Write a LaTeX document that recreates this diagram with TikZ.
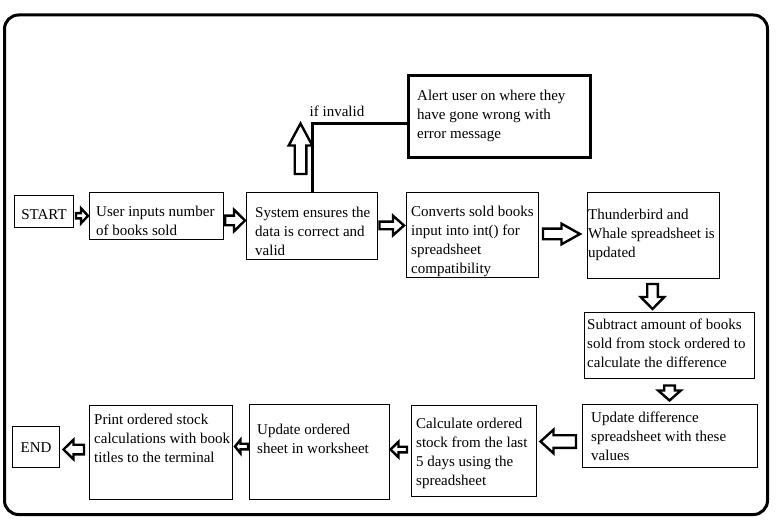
\documentclass[tikz,border=0pt]{standalone}
\usepackage{fontspec}
\setmainfont{Liberation Serif}
\usetikzlibrary{calc}
\tikzset{
  box/.style={draw, line width=1pt, anchor=north west, inner sep=0pt},
  txt/.style={anchor=north west, inner sep=0pt, align=left, execute at begin node=\strut},
  fat/.style={draw, fill=white, line width=2.4pt, line join=miter},
  thickline/.style={line width=3pt},
}
% hollow block arrow: tail, tip, half body, half head, head length
\newcommand{\fatarrow}[5]{%
  \coordinate (neck) at ($(#2)!#5!(#1)$);
  \draw[fat] ($(#1)!#3!90:(#2)$) -- ($(neck)!#3!90:(#2)$) -- ($(neck)!#4!90:(#2)$)
    -- (#2) -- ($(neck)!#4!-90:(#2)$) -- ($(neck)!#3!-90:(#2)$) -- ($(#1)!#3!-90:(#2)$) -- cycle;
}

\begin{document}
\begin{tikzpicture}[x=1pt, y=-1pt, font=\fontsize{15}{19}\selectfont]
  \useasboundingbox (0,0) rectangle (780,524);
  \draw[thickline, rounded corners=14pt] (4.5,15) rectangle (767.5,514.5);

  % top row
  \node[box, minimum width=59pt, minimum height=32pt, text height=16pt] (start) at (14,195) {START};
  \node[box, minimum width=134pt, minimum height=47pt] (user) at (89,192) {};
  \node[box, minimum width=131pt, minimum height=67pt] (system) at (246,192) {};
  \node[box, minimum width=132pt, minimum height=85pt] (converts) at (406,192) {};
  \node[box, minimum width=132pt, minimum height=86pt] (thunder) at (587,192) {};
  \node[box, line width=3pt, minimum width=182pt, minimum height=82pt] (alert) at (407,74) {};

  % right column and bottom row
  \node[box, minimum width=170pt, minimum height=66pt] (subtract) at (584,312) {};
  \node[box, minimum width=175pt, minimum height=63pt] (diff) at (582,404) {};
  \node[box, minimum width=125pt, minimum height=91pt] (calc) at (411,405) {};
  \node[box, minimum width=140pt, minimum height=95pt] (updord) at (249,404) {};
  \node[box, minimum width=143pt, minimum height=94pt] (print) at (89,405) {};
  \node[box, minimum width=47pt, minimum height=41pt, text height=12pt] (end) at (12,426) {END};

  % texts
  \node[txt] (usertext) at ($(user.north west)+(7,14)$) {User inputs number\\of books sold};
  \node[txt] (systemtext) at ($(system.north west)+(9,15)$) {System ensures the\\data is correct and\\valid};
  \node[txt] (convertstext) at ($(converts.north west)+(5,14)$) {Converts sold books\\input into int() for\\spreadsheet\\compatibility};
  \node[txt] (thundertext) at ($(thunder.north west)+(1,17)$) {Thunderbird and\\Whale spreadsheet is\\updated};
  \node[txt] (alerttext) at ($(alert.north west)+(10,16)$) {Alert user on where they\\have gone wrong with\\error message};
  \node[txt] (subtracttext) at ($(subtract.north west)+(3,7)$) {Subtract amount of books\\sold from stock ordered to\\calculate the difference};
  \node[txt] (difftext) at ($(diff.north west)+(9,8)$) {Update difference\\spreadsheet with these\\values};
  \node[txt] (calctext) at ($(calc.north west)+(5,13)$) {Calculate ordered\\stock from the last\\5 days using the\\spreadsheet};
  \node[txt] (updordtext) at ($(updord.north west)+(8,20)$) {Update ordered\\sheet in worksheet};
  \node[txt] (printtext) at ($(print.north west)+(5,9)$) {Print ordered stock\\calculations with book\\titles to the terminal};
  \node[anchor=west, inner sep=0pt] (invalid) at ($(system.north)+(-2.5,-81)$) {if invalid};

  % invalid branch
  \draw[thickline] ($(system.north)+(0.5,0)$) |- ($(alert.west)+(0,7)$);

  % block arrows
  \coordinate (t1) at ($(start.east)+(2,4.3)$);     \coordinate (h1) at ($(user.west)+(-1,-0.2)$);
  \coordinate (t2) at ($(user.east)+(1.2,4.5)$);    \coordinate (h2) at ($(system.west)+(-1,-5.5)$);
  \coordinate (t3) at ($(system.east)+(1.5,-0.5)$); \coordinate (h3) at ($(converts.west)+(-2,-9.5)$);
  \coordinate (t4) at ($(converts.east)+(4,-1)$);   \coordinate (h4) at ($(thunder.west)+(-7,-1.5)$);
  \coordinate (t5) at ($(thunder.south)+(-1,5)$);   \coordinate (h5) at ($(subtract.north)+(-17,-3)$);
  \coordinate (t6) at ($(subtract.south)+(0,6.5)$); \coordinate (h6) at ($(diff.north)+(-0.5,-3.5)$);
  \coordinate (t7) at ($(diff.west)+(-6,5.5)$);     \coordinate (h7) at ($(calc.east)+(3.5,-9.5)$);
  \coordinate (t8) at ($(calc.west)+(-4,-1.5)$);    \coordinate (h8) at ($(updord.east)+(0.5,-2.5)$);
  \coordinate (t9) at ($(updord.west)+(-1,-5.5)$);  \coordinate (h9) at ($(print.east)+(2,-6)$);
  \coordinate (t10) at ($(print.west)+(-5,-3)$);    \coordinate (h10) at ($(end.east)+(3.5,2.5)$);
  \coordinate (t11) at ($(system.north)+(-11.5,-18)$); \coordinate (h11) at ($(system.north)+(-11.5,-68.5)$);

  \fatarrow{t1}{h1}{2.6pt}{7.5pt}{7pt}
  \fatarrow{t2}{h2}{4.8pt}{10.8pt}{11pt}
  \fatarrow{t3}{h3}{3.8pt}{9.8pt}{11pt}
  \fatarrow{t4}{h4}{5.3pt}{10.3pt}{18.5pt}
  \fatarrow{t5}{h5}{5.3pt}{11.8pt}{12pt}
  \fatarrow{t6}{h6}{5.3pt}{11.3pt}{10pt}
  \fatarrow{t7}{h7}{6.3pt}{11.8pt}{13pt}
  \fatarrow{t8}{h8}{2.8pt}{7.8pt}{8pt}
  \fatarrow{t9}{h9}{2.8pt}{6.8pt}{5.5pt}
  \fatarrow{t10}{h10}{4.8pt}{9.8pt}{10pt}
  \fatarrow{t11}{h11}{5.8pt}{11.8pt}{22pt}
\end{tikzpicture}
\end{document}
